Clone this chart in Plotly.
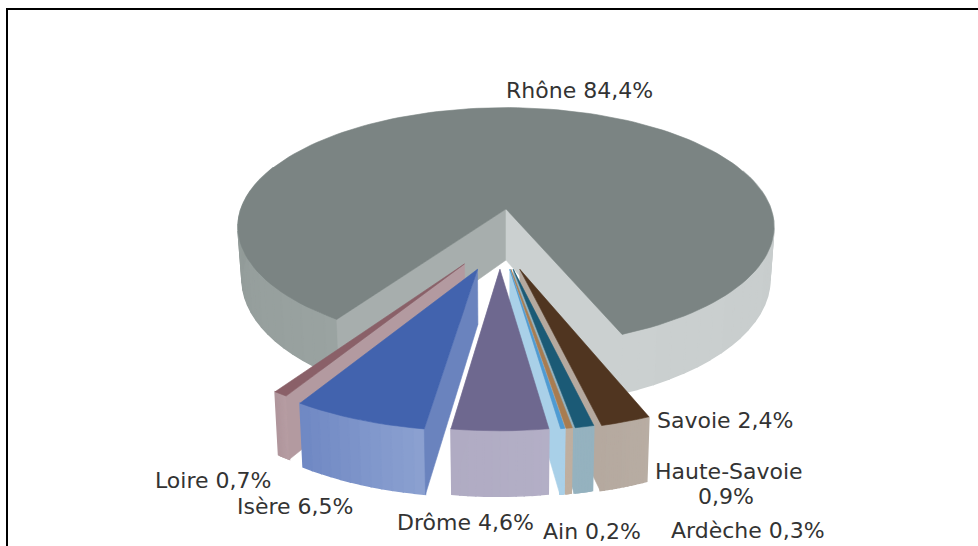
import math
import plotly.graph_objects as go

# Data (clockwise order, starting at the Rhône slice)
names = ["Rhône", "Savoie", "Haute-Savoie", "Ardèche", "Ain", "Drôme", "Isère", "Loire"]
shares = [84.4, 2.4, 0.9, 0.3, 0.2, 4.6, 6.5, 0.7]
top_colors = ["#7B8483", "#503520", "#1B5A76", "#A87C50", "#4E9BD3", "#6E688F", "#4263AE", "#8A6068"]
wall_left = ["#8F9896", "#B5A99F", "#95B2BF", "#BFAFA0", "#AAD0E8", "#B0ABC3", "#6F88C3", "#B0969C"]
wall_right = ["#CBD0D0", "#B8ADA3", "#95B2BF", "#BFAFA0", "#AAD0E8", "#B3AFC6", "#8CA1D1", "#B79EA4"]
face_left = ["#A7AEAD", "#B5A99F", "#95B2BF", "#BFAFA0", "#A9D0E8", "#B0ABC3", "#6A83BE", "#B39AA0"]
face_right = ["#CBD0D0", "#B5A99F", "#95B2BF", "#BFAFA0", "#A9D0E8", "#B0ABC3", "#6A83BE", "#B39AA0"]
explode_y = [0.0, 0.48, 0.48, 0.48, 0.48, 0.48, 0.48, 0.44]

# label placement (centre x, centre y) per slice; text built from names + shares
label_pos = {
    "Rhône": [(579, 90)],
    "Savoie": [(725, 420)],
    "Haute-Savoie": [(729, 471), (726, 496)],
    "Ardèche": [(748, 530)],
    "Ain": [(592, 531)],
    "Drôme": [(465, 522)],
    "Isère": [(295, 506)],
    "Loire": [(213, 480)],
}
label_font = dict(family="DejaVu Sans", size=22, color="#333333")

# Projection
CX, CY, R, K, P, H = 506.0, 209.0, 265.0, 0.44, 0.15, 51.0
START = 34.0
EX_X0, EX_XS = -0.022, 0.23


def project(x, y, bottom=False):
    s = 1.0 / (1.0 - P * y)
    X = R * x * s
    Y = R * K * y * s
    if bottom:
        return CX + X * 0.985, CY + Y + H * s
    return CX + X, CY + Y


def rim(theta, ox, oy, bottom=False):
    t = math.radians(theta)
    return project(ox - math.sin(t), oy + math.cos(t), bottom)


def lerp_color(c1, c2, f):
    a = [int(c1[i:i + 2], 16) for i in (1, 3, 5)]
    b = [int(c2[i:i + 2], 16) for i in (1, 3, 5)]
    return "#%02x%02x%02x" % tuple(round(u + (v - u) * f) for u, v in zip(a, b))


fig = go.Figure()


def poly(points, color, lw=0.6):
    xs = [p[0] for p in points] + [points[0][0]]
    ys = [p[1] for p in points] + [points[0][1]]
    fig.add_trace(go.Scatter(x=xs, y=ys, mode="lines", fill="toself", fillcolor=color,
                             line=dict(color=color, width=lw), hoverinfo="skip"))


def wall(a0, a1, ox, oy, c0, c1, n):
    for i in range(n):
        t0 = a0 + (a1 - a0) * i / n
        t1 = a0 + (a1 - a0) * (i + 1) / n
        col = lerp_color(c0, c1, (i + 0.5) / n)
        poly([rim(t0, ox, oy), rim(t1, ox, oy), rim(t1, ox, oy, True), rim(t0, ox, oy, True)], col, 1.5)


def top(a0, a1, ox, oy, color):
    n = max(4, int(abs(a1 - a0) / 2))
    pts = [project(ox, oy)] + [rim(a0 + (a1 - a0) * i / n, ox, oy) for i in range(n + 1)]
    poly(pts, color)


def face(theta, ox, oy, color):
    poly([project(ox, oy), rim(theta, ox, oy), rim(theta, ox, oy, True), project(ox, oy, True)], color)


# angular extents
total = sum(shares)
spans = {}
a = START
for name, v in zip(names, shares):
    spans[name] = (a, a + v / total * 360.0)
    a += v / total * 360.0

# Rhône
a0, a1 = spans["Rhône"]
wall(a0, 112, 0, 0, "#9AA3A1", "#8F9896", 24)
wall(250, a1, 0, 0, "#C6CBCB", "#CBD0D0", 24)
face(a0, 0, 0, face_left[0])
face(a1, 0, 0, face_right[0])
top(a0, a1, 0, 0, top_colors[0])

# Exploded slices, painted from the outside in towards the middle
order = ["Loire", "Isère", "Savoie", "Haute-Savoie", "Ardèche", "Ain", "Drôme"]
for name in order:
    i = names.index(name)
    s0, s1 = spans[name]
    s0n, s1n = s0 - 360, s1 - 360
    mid = (s0n + s1n) / 2
    ox = EX_X0 - EX_XS * math.sin(math.radians(mid))
    oy = explode_y[i]
    wall(s0n, s1n, ox, oy, wall_right[i], wall_left[i], 12)
    if mid > 0:
        face(s0n, ox, oy, face_right[i])
    else:
        face(s1n, ox, oy, face_left[i])
    top(s0n, s1n, ox, oy, top_colors[i])

# Labels
annotations = []
for name, v in zip(names, shares):
    text = f"{name} {v:.1f}%".replace(".", ",")
    parts = [text] if len(label_pos[name]) == 1 else [name, f"{v:.1f}%".replace(".", ",")]
    for part, (x, y) in zip(parts, label_pos[name]):
        annotations.append(dict(x=x, y=y, xref="x", yref="y", text=part, showarrow=False,
                                font=label_font, xanchor="center", yanchor="middle"))

shapes = [
    dict(type="line", xref="x", yref="y", x0=7, x1=7, y0=8, y1=546, line=dict(color="black", width=2)),
    dict(type="line", xref="x", yref="y", x0=6, x1=978, y0=9, y1=9, line=dict(color="black", width=2)),
]

fig.update_layout(
    width=978, height=546, margin=dict(l=0, r=0, t=0, b=0), showlegend=False,
    paper_bgcolor="white", plot_bgcolor="white",
    xaxis=dict(range=[0, 978], visible=False, fixedrange=True),
    yaxis=dict(range=[546, 0], visible=False, fixedrange=True),
    annotations=annotations, shapes=shapes,
)
fig.write_html("out.html", post_script="document.body.style.margin='0';document.body.style.overflow='hidden';",
               config=dict(displayModeBar=False))
